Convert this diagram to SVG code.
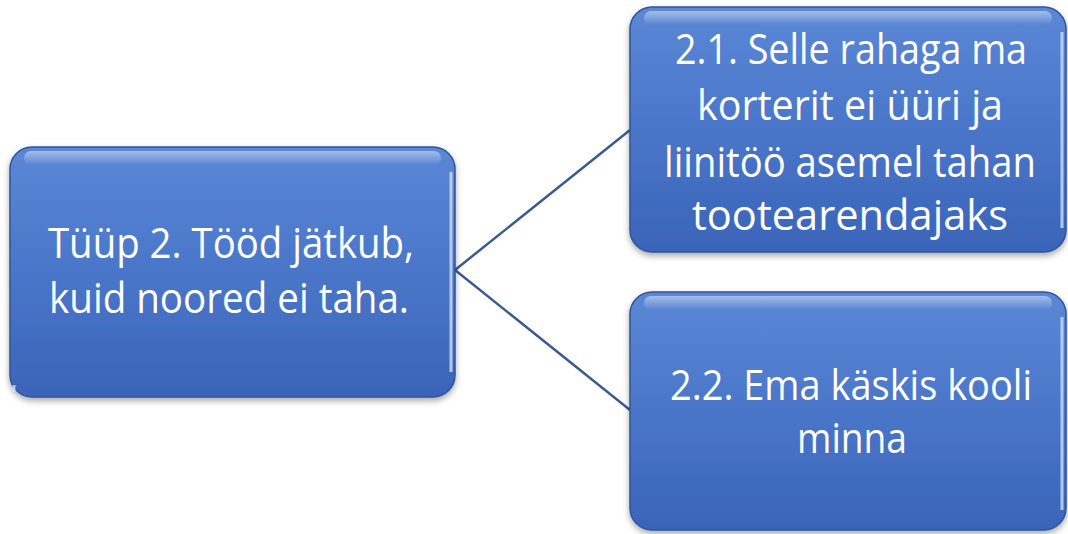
<svg xmlns="http://www.w3.org/2000/svg" width="1068" height="534" viewBox="0 0 1068 534">
<defs>
<linearGradient id="fill" x1="0" y1="0" x2="0" y2="1">
<stop offset="0" stop-color="#5b87d6"/>
<stop offset="0.5" stop-color="#4a76c9"/>
<stop offset="1" stop-color="#3a64b9"/>
</linearGradient>
<linearGradient id="gloss" x1="0" y1="0" x2="0" y2="1">
<stop offset="0" stop-color="#ffffff" stop-opacity="0.45"/>
<stop offset="1" stop-color="#ffffff" stop-opacity="0"/>
</linearGradient>
<filter id="sh" x="-5%" y="-5%" width="110%" height="115%">
<feDropShadow dx="0" dy="3" stdDeviation="3" flood-color="#000" flood-opacity="0.35"/>
</filter>
</defs>
<style>
.box{fill:url(#fill);stroke:#2f5597;stroke-width:1.5;filter:url(#sh)}
.gl{fill:url(#gloss)}
.edge{fill:none;stroke:#cfe0ff;stroke-width:3;stroke-opacity:0.8}
.t{font-family:"Open Sans","Noto Sans","Liberation Sans",sans-serif;font-size:42px;fill:#ffffff;text-anchor:middle}
.c{stroke:#3c5a8e;stroke-width:2.5;fill:none}
</style>
<g id="connectors">
<line class="c" x1="455" y1="270" x2="630" y2="130"/>
<line class="c" x1="455" y1="270" x2="630" y2="410"/>
</g>
<g id="n0">
<rect class="box" x="10" y="147" width="445" height="250" rx="22"/>
<rect class="gl" x="24" y="151" width="417" height="14" rx="7"/>
<line class="edge" x1="451" y1="172" x2="451" y2="372"/>
<line class="edge" x1="14" y1="385" x2="14" y2="392"/>
<text class="t" x="231" y="258" textLength="366" lengthAdjust="spacingAndGlyphs">Tüüp 2. Tööd jätkub,</text>
<text class="t" x="229" y="313" textLength="360" lengthAdjust="spacingAndGlyphs">kuid noored ei taha.</text>
</g>
<g id="n1">
<rect class="box" x="630" y="7" width="436" height="245" rx="22"/>
<rect class="gl" x="644" y="11" width="408" height="14" rx="7"/>
<line class="edge" x1="1062" y1="32" x2="1062" y2="228"/>
<text class="t" x="851" y="64" textLength="352" lengthAdjust="spacingAndGlyphs">2.1. Selle rahaga ma</text>
<text class="t" x="850" y="120" textLength="306" lengthAdjust="spacingAndGlyphs">korterit ei üüri ja</text>
<text class="t" x="850" y="177" textLength="372" lengthAdjust="spacingAndGlyphs">liinitöö asemel tahan</text>
<text class="t" x="850" y="230" textLength="316" lengthAdjust="spacingAndGlyphs">tootearendajaks</text>
</g>
<g id="n2">
<rect class="box" x="630" y="292" width="436" height="238" rx="22"/>
<rect class="gl" x="644" y="296" width="408" height="14" rx="7"/>
<line class="edge" x1="1062" y1="317" x2="1062" y2="510"/>
<text class="t" x="851" y="400" textLength="362" lengthAdjust="spacingAndGlyphs">2.2. Ema käskis kooli</text>
<text class="t" x="852" y="453" textLength="110" lengthAdjust="spacingAndGlyphs">minna</text>
</g>
</svg>
